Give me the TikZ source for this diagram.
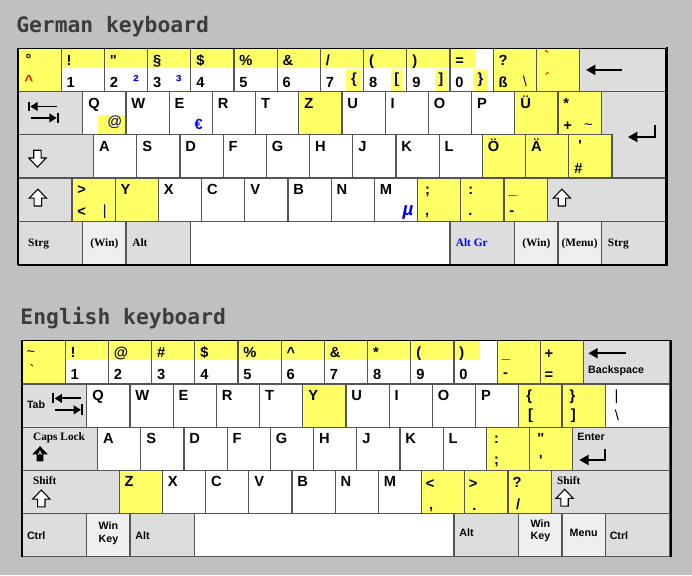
\documentclass[tikz,border=0pt]{standalone}
\usepackage{fontspec}
\newfontfamily\keyfont{Liberation Sans}
\newfontfamily\modfont{Liberation Serif}
\newfontfamily\ttlfont{DejaVu Sans Mono}
\usetikzlibrary{arrows.meta}
\definecolor{bgc}{HTML}{C0C0C0}
\definecolor{hlc}{HTML}{FFFF66}
\definecolor{modc}{HTML}{DDDDDD}
\definecolor{winc}{HTML}{EFEFEF}
\definecolor{edgec}{HTML}{555555}
\definecolor{navyc}{HTML}{000080}
\definecolor{bluec}{HTML}{0000FF}
\definecolor{redc}{HTML}{FF0000}
\definecolor{ttlc}{HTML}{3C3C3C}
\tikzset{
  key/.style={draw=edgec, line width=0.9pt},
  rim/.style={draw=black, line width=1.1pt},
  ch/.style={font=\keyfont\bfseries\fontsize{11}{13}\selectfont, inner sep=0pt, anchor=base west},
  thn/.style={font=\keyfont\fontsize{11}{13}\selectfont, inner sep=0pt, anchor=base west},
  sup/.style={font=\keyfont\bfseries\fontsize{13}{15}\selectfont, inner sep=0pt, anchor=base west, text=bluec},
  mod/.style={font=\modfont\bfseries\fontsize{8.5}{10}\selectfont, inner sep=0pt, anchor=base west},
  lbl/.style={font=\keyfont\bfseries\fontsize{8}{10}\selectfont, inner sep=0pt, anchor=base west},
  ttl/.style={font=\ttlfont\bfseries\fontsize{16}{18}\selectfont, text=ttlc, inner sep=0pt, anchor=base west},
  arr/.style={line width=1.5pt, -{Triangle[length=7pt, width=7.5pt]}},
  tabarr/.style={line width=1.4pt, -{Triangle[length=5.5pt, width=6.5pt]}},
  bar/.style={line width=1.5pt},
  hollow/.style={draw=black, line width=0.8pt, fill=white},
}
\newcommand{\kb}[4]{\draw[key, fill=#4] (#1,#2) rectangle ++(#3,1);}
\newcommand{\numkey}[4]{\node[ch] (#1t) at (#2+0.12,0.39) {#3}; \node[ch] (#1b) at (#2+0.12,0.9) {#4};}
\newcommand{\fatup}[1]{\draw[hollow, shift={(#1)}] (0,-0.21) -- (0.2,0) -- (0.085,0) -- (0.085,0.18) -- (-0.085,0.18) -- (-0.085,0) -- (-0.2,0) -- cycle;}
\newcommand{\fatdown}[1]{\draw[hollow, shift={(#1)}] (0,0.21) -- (0.2,0) -- (0.085,0) -- (0.085,-0.18) -- (-0.085,-0.18) -- (-0.085,0) -- (-0.2,0) -- cycle;}
\newcommand{\tabsym}[1]{%
  \draw[bar, shift={(#1)}] (0,-0.115) -- (0,0.115);
  \draw[tabarr, shift={(#1)}] (0.64,0) -- (0.03,0);
  \draw[tabarr, shift={(#1)}] (0.04,0.265) -- (0.64,0.265);
  \draw[bar, shift={(#1)}] (0.67,0.14) -- (0.67,0.39);}

\begin{document}
\begin{tikzpicture}[x=32.4pt, y=-32.4pt]
\fill[bgc] (0,0) rectangle (16.0185,13.3102);
\useasboundingbox (0,0) rectangle (16.0185,13.3102);

% ---------------- German keyboard ----------------
\node[ttl] (gttl) at (0.37,0.741) {German keyboard};
\begin{scope}[shift={(0.4167,1.118)}]
% keys
\kb{0}{0}{1}{hlc}
\foreach \i in {1,...,10} {\kb{\i}{0}{1}{white}}
\kb{11}{0}{1}{hlc}
\kb{12}{0}{1}{hlc}
\kb{13}{0}{2}{modc}
\kb{0}{1}{1.5}{modc}
\foreach \f [count=\i from 0] in {white,white,white,white,white,hlc,white,white,white,white,hlc,hlc} {\kb{1.5+\i}{1}{1}{\f}}
\draw[key, fill=modc] (13.5,1) -- (15,1) -- (15,3) -- (13.75,3) -- (13.75,2) -- (13.5,2) -- cycle;
\kb{0}{2}{1.75}{modc}
\foreach \f [count=\i from 0] in {white,white,white,white,white,white,white,white,white,hlc,hlc,hlc} {\kb{1.75+\i}{2}{1}{\f}}
\kb{0}{3}{1.25}{modc}
\foreach \f [count=\i from 0] in {hlc,hlc,white,white,white,white,white,white,hlc,hlc,hlc} {\kb{1.25+\i}{3}{1}{\f}}
\kb{12.25}{3}{2.75}{modc}
\kb{0}{4}{1.5}{modc}
\kb{1.5}{4}{1}{winc}
\kb{2.5}{4}{1.5}{modc}
\kb{4}{4}{6}{white}
\kb{10}{4}{1.5}{modc}
\kb{11.5}{4}{1}{winc}
\kb{12.5}{4}{1}{winc}
\kb{13.5}{4}{1.5}{modc}
% highlights of the second and third level
\fill[hlc] (1,0) rectangle (10.595,0.45);
\fill[hlc] (7.59,0.47) rectangle (7.96,0.98);
\fill[hlc] (8.63,0.47) rectangle (8.91,0.98);
\fill[hlc] (9.65,0.47) rectangle (9.93,0.98);
\fill[hlc] (10.54,0.47) rectangle (10.87,0.98);
\fill[hlc] (1.85,1.54) rectangle (2.5,1.98);
\foreach \i in {1,...,10} {\draw[key] (\i,0) rectangle ++(1,1);}
\draw[key] (1.5,1) rectangle ++(1,1);
\draw[rim] (0,0) rectangle (15,5);
\draw[line width=2pt] (15.02,-0.02) -- (15.02,5.03);
\draw[line width=1.4pt] (0,5.01) -- (15.03,5.01);

% number row
\node[ch] (gdeg) at (0.17,0.37) {°};
\node[ch, text=redc] (gcirc) at (0.15,0.85) {\textasciicircum};
\numkey{g1}{1}{!}{1}
\numkey{g2}{2}{\textquotedbl}{2}
\numkey{g3}{3}{§}{3}
\numkey{g4}{4}{\$}{4}
\numkey{g5}{5}{\%}{5}
\numkey{g6}{6}{\&}{6}
\numkey{g7}{7}{/}{7}
\numkey{g8}{8}{(}{8}
\numkey{g9}{9}{)}{9}
\numkey{g0}{10}{=}{0}
\node[sup] (gsq) at (2.66,0.9) {²};
\node[sup] (gcu) at (3.65,0.9) {³};
\node[ch, text=navyc, anchor=base] (glbrace) at (7.775,0.82) {\{};
\node[ch, text=navyc, anchor=base] (glbrack) at (8.77,0.82) {[};
\node[ch, text=navyc, anchor=base] (grbrack) at (9.79,0.82) {]};
\node[ch, text=navyc, anchor=base] (grbrace) at (10.705,0.82) {\}};
\numkey{gss}{11}{?}{ß}
\node[thn, text=navyc] (gbslash) at (11.68,0.88) {\textbackslash};
\node[ch, text=redc] (ggrave) at (12.18,0.31) {\textasciigrave};
\node[ch, text=redc] (gacute) at (12.19,0.82) {´};
\draw[arr] (13.99,0.5) -- (13.15,0.5);

% top letter row
\tabsym{0.255,1.347}
\foreach \c [count=\i from 0] in {Q,W,E,R,T,Z,U,I,O,P,Ü} {\node[ch] (gq\i) at (1.62+\i,1.39) {\c};}
\node[thn, text=navyc, anchor=base] (gat) at (2.24,1.82) {@};
\node[ch, text=bluec] (geuro) at (4.08,1.89) {€};
\node[ch] (gast) at (12.62,1.39) {*};
\node[ch] (gplus) at (12.62,1.9) {+};
\node[thn, text=navyc] (gtilde) at (13.1,1.89) {\textasciitilde};
\draw[arr] (14.745,1.775) -- (14.745,2.053) -- (14.12,2.053);

% home row
\fatdown{0.45,2.54}
\foreach \c [count=\i from 0] in {A,S,D,F,G,H,J,K,L,Ö,Ä} {\node[ch] (ga\i) at (1.87+\i,2.39) {\c};}
\node[ch, anchor=base] (gquote) at (13.01,2.36) {\textquotesingle};
\node[ch] (ghash) at (12.87,2.89) {\#};

% bottom letter row
\fatup{0.46,3.47}
\node[ch] (ggt) at (1.37,3.39) {\textgreater};
\node[ch] (glt) at (1.37,3.9) {\textless};
\node[thn, text=navyc] (gbar) at (1.96,3.86) {\textbar};
\foreach \c [count=\i from 0] in {Y,X,C,V,B,N,M} {\node[ch] (gy\i) at (2.37+\i,3.39) {\c};}
\node[ch, text=bluec, anchor=base, font=\keyfont\bfseries\itshape\fontsize{14}{16}\selectfont] (gmu) at (9.03,3.87) {µ};
\node[ch] (gsemi) at (9.42,3.39) {;};
\node[ch] (gcomma) at (9.42,3.88) {,};
\node[ch] (gcolon) at (10.42,3.39) {:};
\node[ch] (gdot) at (10.42,3.88) {.};
\node[ch] (gunder) at (11.35,3.39) {\_};
\node[ch] (gminus) at (11.37,3.86) {-};
\fatup{12.59,3.47}

% space row
\node[mod] (gstrg) at (0.23,4.58) {Strg};
\node[mod, anchor=base] (gwin) at (2.0,4.58) {(Win)};
\node[mod] (galt) at (2.64,4.58) {Alt};
\node[mod, text=bluec] (galtgr) at (10.13,4.58) {Alt Gr};
\node[mod, anchor=base] (gwin2) at (12.0,4.58) {(Win)};
\node[mod, anchor=base] (gmenu) at (13.0,4.58) {(Menu)};
\node[mod] (gstrg2) at (13.65,4.58) {Strg};
\end{scope}

% ---------------- English keyboard ----------------
\node[ttl] (ettl) at (0.468,7.507) {English keyboard};
\begin{scope}[shift={(0.5093,7.887)}]
% keys
\kb{0}{0}{1}{hlc}
\foreach \i in {1,...,10} {\kb{\i}{0}{1}{white}}
\kb{11}{0}{1}{hlc}
\kb{12}{0}{1}{hlc}
\kb{13}{0}{2}{modc}
\kb{0}{1}{1.5}{modc}
\foreach \f [count=\i from 0] in {white,white,white,white,white,hlc,white,white,white,white,hlc,hlc} {\kb{1.5+\i}{1}{1}{\f}}
\kb{13.5}{1}{1.5}{white}
\kb{0}{2}{1.75}{modc}
\foreach \f [count=\i from 0] in {white,white,white,white,white,white,white,white,white,hlc,hlc} {\kb{1.75+\i}{2}{1}{\f}}
\kb{12.75}{2}{2.25}{modc}
\kb{0}{3}{2.25}{modc}
\foreach \f [count=\i from 0] in {hlc,white,white,white,white,white,white,hlc,hlc,hlc} {\kb{2.25+\i}{3}{1}{\f}}
\kb{12.25}{3}{2.75}{modc}
\kb{0}{4}{1.5}{modc}
\kb{1.5}{4}{1}{winc}
\kb{2.5}{4}{1.5}{modc}
\kb{4}{4}{6}{white}
\kb{10}{4}{1.5}{modc}
\kb{11.5}{4}{1}{winc}
\kb{12.5}{4}{1}{winc}
\kb{13.5}{4}{1.5}{modc}
% highlight of the shifted symbols
\fill[hlc] (1,0) rectangle (10.6,0.447);
\foreach \i in {1,...,10} {\draw[key] (\i,0) rectangle ++(1,1);}
\draw[rim] (0,5) -- (0,0) -- (15,0);
\draw[line width=2pt] (15.02,-0.02) -- (15.02,5);

% number row
\node[thn] (etilde) at (0.1,0.37) {\textasciitilde};
\node[thn] (egrave) at (0.17,0.81) {\textasciigrave};
\numkey{e1}{1}{!}{1}
\numkey{e2}{2}{@}{2}
\numkey{e3}{3}{\#}{3}
\numkey{e4}{4}{\$}{4}
\numkey{e5}{5}{\%}{5}
\numkey{e6}{6}{\textasciicircum}{6}
\numkey{e7}{7}{\&}{7}
\numkey{e8}{8}{*}{8}
\numkey{e9}{9}{(}{9}
\numkey{e0}{10}{)}{0}
\node[ch] (eunder) at (11.1,0.4) {\_};
\node[ch] (eminus) at (11.13,0.86) {-};
\node[ch] (eplus) at (12.09,0.41) {+};
\node[ch] (eequal) at (12.09,0.9) {=};
\draw[arr] (13.98,0.29) -- (13.11,0.29);
\node[lbl] (ebksp) at (13.1,0.75) {Backspace};

% top letter row
\node[lbl] (etab) at (0.11,1.565) {Tab};
\tabsym{0.725,1.335}
\foreach \c [count=\i from 0] in {Q,W,E,R,T,Y,U,I,O,P} {\node[ch] (eq\i) at (1.62+\i,1.38) {\c};}
\node[ch] (elbrace) at (11.67,1.38) {\{};
\node[ch] (elbrack) at (11.71,1.82) {[};
\node[ch] (erbrace) at (12.67,1.38) {\}};
\node[ch] (erbrack) at (12.7,1.82) {]};
\node[thn] (epipe) at (13.71,1.38) {\textbar};
\node[thn] (ebslash) at (13.72,1.85) {\textbackslash};

% home row
\node[mod] (ecaps) at (0.25,2.32) {Caps Lock};
\fill[black, shift={(0.417,2.63)}, scale=0.9] (0,-0.21) -- (0.2,0) -- (0.085,0) -- (0.085,0.18) -- (-0.085,0.18) -- (-0.085,0) -- (-0.2,0) -- cycle;
\node[font=\keyfont\bfseries\fontsize{4.5}{5}\selectfont, text=white, inner sep=0pt] (ecapsa) at (0.417,2.6) {A};
\foreach \c [count=\i from 0] in {A,S,D,F,G,H,J,K,L} {\node[ch] (ea\i) at (1.87+\i,2.38) {\c};}
\node[ch] (ecolon) at (10.92,2.375) {:};
\node[ch] (esemi) at (10.92,2.87) {;};
\node[ch, anchor=base] (edquote) at (12.01,2.37) {\textquotedbl};
\node[ch, anchor=base] (esquote) at (12.01,2.89) {\textquotesingle};
\node[lbl] (eenter) at (12.85,2.32) {Enter};
\draw[arr] (13.495,2.514) -- (13.495,2.76) -- (12.9,2.76);

% bottom letter row
\node[mod] (eshift) at (0.25,3.317) {Shift};
\fatup{0.447,3.666}
\foreach \c [count=\i from 0] in {Z,X,C,V,B,N,M} {\node[ch] (ez\i) at (2.37+\i,3.38) {\c};}
\node[ch] (elt) at (9.34,3.42) {\textless};
\node[ch] (ecomma) at (9.42,3.91) {,};
\node[ch] (egt) at (10.34,3.42) {\textgreater};
\node[ch] (edot) at (10.42,3.92) {.};
\node[ch] (eques) at (11.35,3.4) {?};
\node[ch] (eslash) at (11.43,3.91) {/};
\node[mod] (eshift2) at (12.38,3.317) {Shift};
\fatup{12.56,3.65}

% space row
\node[lbl] (ectrl) at (0.11,4.6) {Ctrl};
\node[lbl, anchor=base] (ewin) at (2.0,4.38) {Win};
\node[lbl, anchor=base] (ekey) at (2.0,4.66) {Key};
\node[lbl] (ealt) at (2.62,4.6) {Alt};
\node[lbl] (ealt2) at (10.12,4.54) {Alt};
\node[lbl, anchor=base] (ewin2) at (12.0,4.32) {Win};
\node[lbl, anchor=base] (ekey2) at (12.0,4.61) {Key};
\node[lbl, anchor=base] (emenu) at (13.0,4.54) {Menu};
\node[lbl] (ectrl2) at (13.6,4.6) {Ctrl};
\end{scope}
\end{tikzpicture}
\end{document}
